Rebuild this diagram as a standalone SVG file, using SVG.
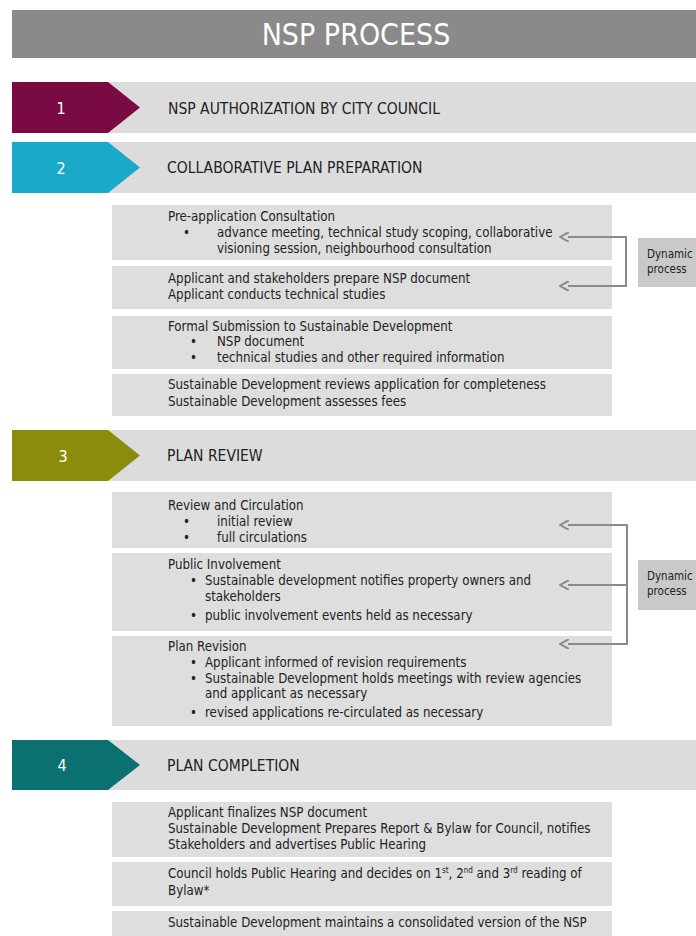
<svg xmlns="http://www.w3.org/2000/svg" width="696" height="936" viewBox="0 0 696 936">
<style>
.bar{fill:#dcdcdc}
.box{fill:#dedede}
.dyn{fill:#c9c9c9}
.t{font-family:"DejaVu Sans Condensed","DejaVu Sans",sans-serif;font-size:13.2px;fill:#222}
.st{font-family:"DejaVu Sans Condensed","DejaVu Sans",sans-serif;font-size:15.5px;fill:#222}
.num{font-family:"DejaVu Sans Condensed","DejaVu Sans",sans-serif;font-size:16px;fill:#fff;text-anchor:middle}
.dt{font-family:"DejaVu Sans Condensed","DejaVu Sans",sans-serif;font-size:11.5px;fill:#222}
.conn{fill:none;stroke:#8a8a8a;stroke-width:2;marker-end:url(#ah)}
.sup{font-size:8px}
</style>
<defs>
<marker id="ah" viewBox="0 0 10 10" refX="1" refY="5" markerWidth="10" markerHeight="10" markerUnits="userSpaceOnUse" orient="auto">
<path d="M0,0 L9,5 L0,10" fill="none" stroke="#8a8a8a" stroke-width="2"/>
</marker>
</defs>
<rect width="696" height="936" fill="#fff"/>
<g id="header">
<rect x="12" y="10" width="684" height="48" fill="#8a8a8a"/>
<text x="356" y="45" text-anchor="middle" font-family="DejaVu Sans Condensed, DejaVu Sans, sans-serif" font-size="30" fill="#fff">NSP PROCESS</text>
</g>

<g id="step1">
<rect class="bar" x="100" y="82" width="596" height="51"/>
<path d="M12,82 H108 L140,107.5 L108,133 H12 Z" fill="#7a0a42"/>
<text class="num" x="61" y="114">1</text>
<text class="st" x="168" y="114">NSP AUTHORIZATION BY CITY COUNCIL</text>
</g>

<g id="step2">
<rect class="bar" x="100" y="142" width="596" height="51"/>
<path d="M12,142 H108 L140,167.5 L108,193 H12 Z" fill="#1ba9c9"/>
<text class="num" x="61" y="174">2</text>
<text class="st" x="167" y="173">COLLABORATIVE PLAN PREPARATION</text>
</g>

<g id="box-preapp">
<rect class="box" x="112" y="205" width="500" height="55"/>
<text class="t" x="168" y="221">Pre-application Consultation</text>
<text class="t" x="183" y="237">•</text>
<text class="t" x="217" y="237">advance meeting, technical study scoping, collaborative</text>
<text class="t" x="217" y="253">visioning session, neighbourhood consultation</text>
</g>

<g id="box-prepare">
<rect class="box" x="112" y="266" width="500" height="43"/>
<text class="t" x="168" y="283">Applicant and stakeholders prepare NSP document</text>
<text class="t" x="168" y="299">Applicant conducts technical studies</text>
</g>

<g id="box-submission">
<rect class="box" x="112" y="316" width="500" height="53"/>
<text class="t" x="168" y="331">Formal Submission to Sustainable Development</text>
<text class="t" x="190" y="346">•</text>
<text class="t" x="217" y="346">NSP document</text>
<text class="t" x="190" y="362">•</text>
<text class="t" x="217" y="362">technical studies and other required information</text>
</g>

<g id="box-completeness">
<rect class="box" x="112" y="374" width="500" height="42"/>
<text class="t" x="168" y="389">Sustainable Development reviews application for completeness</text>
<text class="t" x="168" y="406">Sustainable Development assesses fees</text>
</g>

<g id="dynamic1">
<rect class="dyn" x="638" y="238" width="58" height="49"/>
<text class="dt" x="647" y="258">Dynamic</text>
<text class="dt" x="647" y="273">process</text>
</g>

<g id="step3">
<rect class="bar" x="100" y="430" width="596" height="51"/>
<path d="M12,430 H108 L140,455.5 L108,481 H12 Z" fill="#8c8c0c"/>
<text class="num" x="63" y="462">3</text>
<text class="st" x="167" y="461">PLAN REVIEW</text>
</g>

<g id="box-review">
<rect class="box" x="112" y="492" width="500" height="56"/>
<text class="t" x="168" y="510">Review and Circulation</text>
<text class="t" x="183" y="526">•</text>
<text class="t" x="217" y="526">initial review</text>
<text class="t" x="183" y="542">•</text>
<text class="t" x="217" y="542">full circulations</text>
</g>

<g id="box-public">
<rect class="box" x="112" y="553" width="500" height="78"/>
<text class="t" x="168" y="569">Public Involvement</text>
<text class="t" x="190" y="585">•</text>
<text class="t" x="205" y="585">Sustainable development notifies property owners and</text>
<text class="t" x="205" y="601">stakeholders</text>
<text class="t" x="190" y="620">•</text>
<text class="t" x="205" y="620">public involvement events held as necessary</text>
</g>

<g id="box-revision">
<rect class="box" x="112" y="636" width="500" height="90"/>
<text class="t" x="168" y="651">Plan Revision</text>
<text class="t" x="190" y="667">•</text>
<text class="t" x="205" y="667">Applicant informed of revision requirements</text>
<text class="t" x="190" y="683">•</text>
<text class="t" x="205" y="683">Sustainable Development holds meetings with review agencies</text>
<text class="t" x="205" y="698">and applicant as necessary</text>
<text class="t" x="190" y="717">•</text>
<text class="t" x="205" y="717">revised applications re-circulated as necessary</text>
</g>

<g id="dynamic2">
<rect class="dyn" x="638" y="560" width="58" height="50"/>
<text class="dt" x="647" y="580">Dynamic</text>
<text class="dt" x="647" y="595">process</text>
</g>

<g id="step4">
<rect class="bar" x="100" y="740" width="596" height="50"/>
<path d="M12,740 H108 L140,765 L108,790 H12 Z" fill="#0b7070"/>
<text class="num" x="62" y="771">4</text>
<text class="st" x="167" y="771">PLAN COMPLETION</text>
</g>

<g id="box-finalize">
<rect class="box" x="112" y="802" width="500" height="55"/>
<text class="t" x="168" y="817">Applicant finalizes NSP document</text>
<text class="t" x="168" y="833">Sustainable Development Prepares Report &amp; Bylaw for Council, notifies</text>
<text class="t" x="168" y="849">Stakeholders and advertises Public Hearing</text>
</g>

<g id="box-hearing">
<rect class="box" x="112" y="862" width="500" height="44"/>
<text class="t" x="168" y="878">Council holds Public Hearing and decides on 1<tspan class="sup" dy="-5">st</tspan><tspan dy="5">, 2</tspan><tspan class="sup" dy="-5">nd</tspan><tspan dy="5"> and 3</tspan><tspan class="sup" dy="-5">rd</tspan><tspan dy="5"> reading of</tspan></text>
<text class="t" x="168" y="895">Bylaw*</text>
</g>

<g id="box-consolidated">
<rect class="box" x="112" y="911" width="500" height="25"/>
<text class="t" x="168" y="927">Sustainable Development maintains a consolidated version of the NSP</text>
</g>

<g id="connectors">
<path class="conn" d="M626,262 V237 H568"/>
<path class="conn" d="M626,262 V286 H568"/>
<path class="conn" d="M627,585 V525 H568"/>
<path class="conn" d="M627,585 H568"/>
<path class="conn" d="M627,585 V644 H568"/>
</g>
</svg>
